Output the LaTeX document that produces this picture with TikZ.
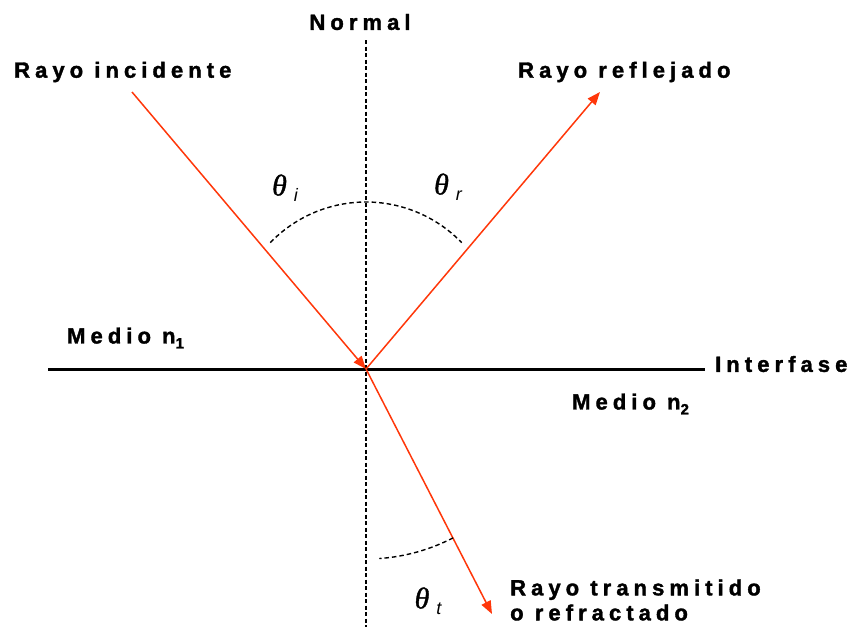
\documentclass[tikz,border=0pt]{standalone}
\usepackage{fontspec}
\setmainfont{Liberation Sans}
\newfontfamily\lblfont[LetterSpace=23,FakeBold=1.6]{Liberation Sans Bold}
\newfontfamily\thetafont[FakeBold=1.2]{Liberation Serif Italic}
\usetikzlibrary{positioning,calc}
\usetikzlibrary{arrows.meta}
\definecolor{RayRed}{RGB}{255,55,10}
\tikzset{
  ray/.style={draw=RayRed,line width=1.5pt,-{Triangle[length=13pt,width=10pt]}},
  normal/.style={draw=black,line width=1.5pt,dash pattern=on 4pt off 2.5pt},
  anglearc/.style={draw=black,line width=1.4pt,dash pattern=on 4.5pt off 3pt},
  iface/.style={draw=black,line width=3pt},
  lbl/.style={inner sep=0pt,font=\lblfont\fontsize{22}{25}\selectfont},
  ang/.style={inner sep=0pt},
}
\newcommand{\angsym}[1]{{\thetafont\fontsize{30}{30}\selectfont θ}\hspace{7pt}\raisebox{-6pt}{\fontsize{18}{18}\selectfont\itshape #1}}

\begin{document}
\begin{tikzpicture}[x=1pt,y=-1pt]
\useasboundingbox (0,0) rectangle (849,627);
\coordinate (o) at (366,369);
\coordinate (ntop) at (366,40);
\coordinate (nbot) at (366,627);
\coordinate (inc) at (132,92);
\coordinate (refl) at (600,92);
\coordinate (trans) at (492,614);
\coordinate (ileft) at (48,369);
\coordinate (iright) at (705,369);
\coordinate (arcc) at (366,335);
\draw[normal] (ntop)--(nbot);
\draw[iface] (ileft)--(iright);
\draw[ray] (inc)--(o);
\draw[ray] (o)--(refl);
\draw[ray] (o)--(trans);
\draw[anglearc] ($(arcc)+(224:133)$) arc[start angle=224,end angle=316,radius=133];
\draw[anglearc] ($(o)+(62.7:190)$) arc[start angle=62.7,end angle=86,radius=190];
\node[lbl] (tnormal) at (360,22) {Normal};
\node[lbl,anchor=west] (tinc) at (14,72) {Rayo incidente};
\node[lbl,anchor=west] (trefl) at (518,72) {Rayo reflejado};
\node[lbl,anchor=west] (tmed1) at (67,338) {Medio n\raisebox{-5pt}{\fontsize{15}{15}\selectfont 1}};
\node[lbl,anchor=west] (tiface) at (715,364) {Interfase};
\node[lbl,anchor=west] (tmed2) at (572,404) {Medio n\raisebox{-5pt}{\fontsize{15}{15}\selectfont 2}};
\node[lbl,anchor=west,align=left] (ttrans) at (510,600) {Rayo transmitido\\o refractado};
\node[ang] (thi) at (285,188) {\angsym{i}};
\node[ang] (thr) at (448,187) {\angsym{r}};
\node[ang] (tht) at (428,601) {\angsym{t}};
\end{tikzpicture}
\end{document}
